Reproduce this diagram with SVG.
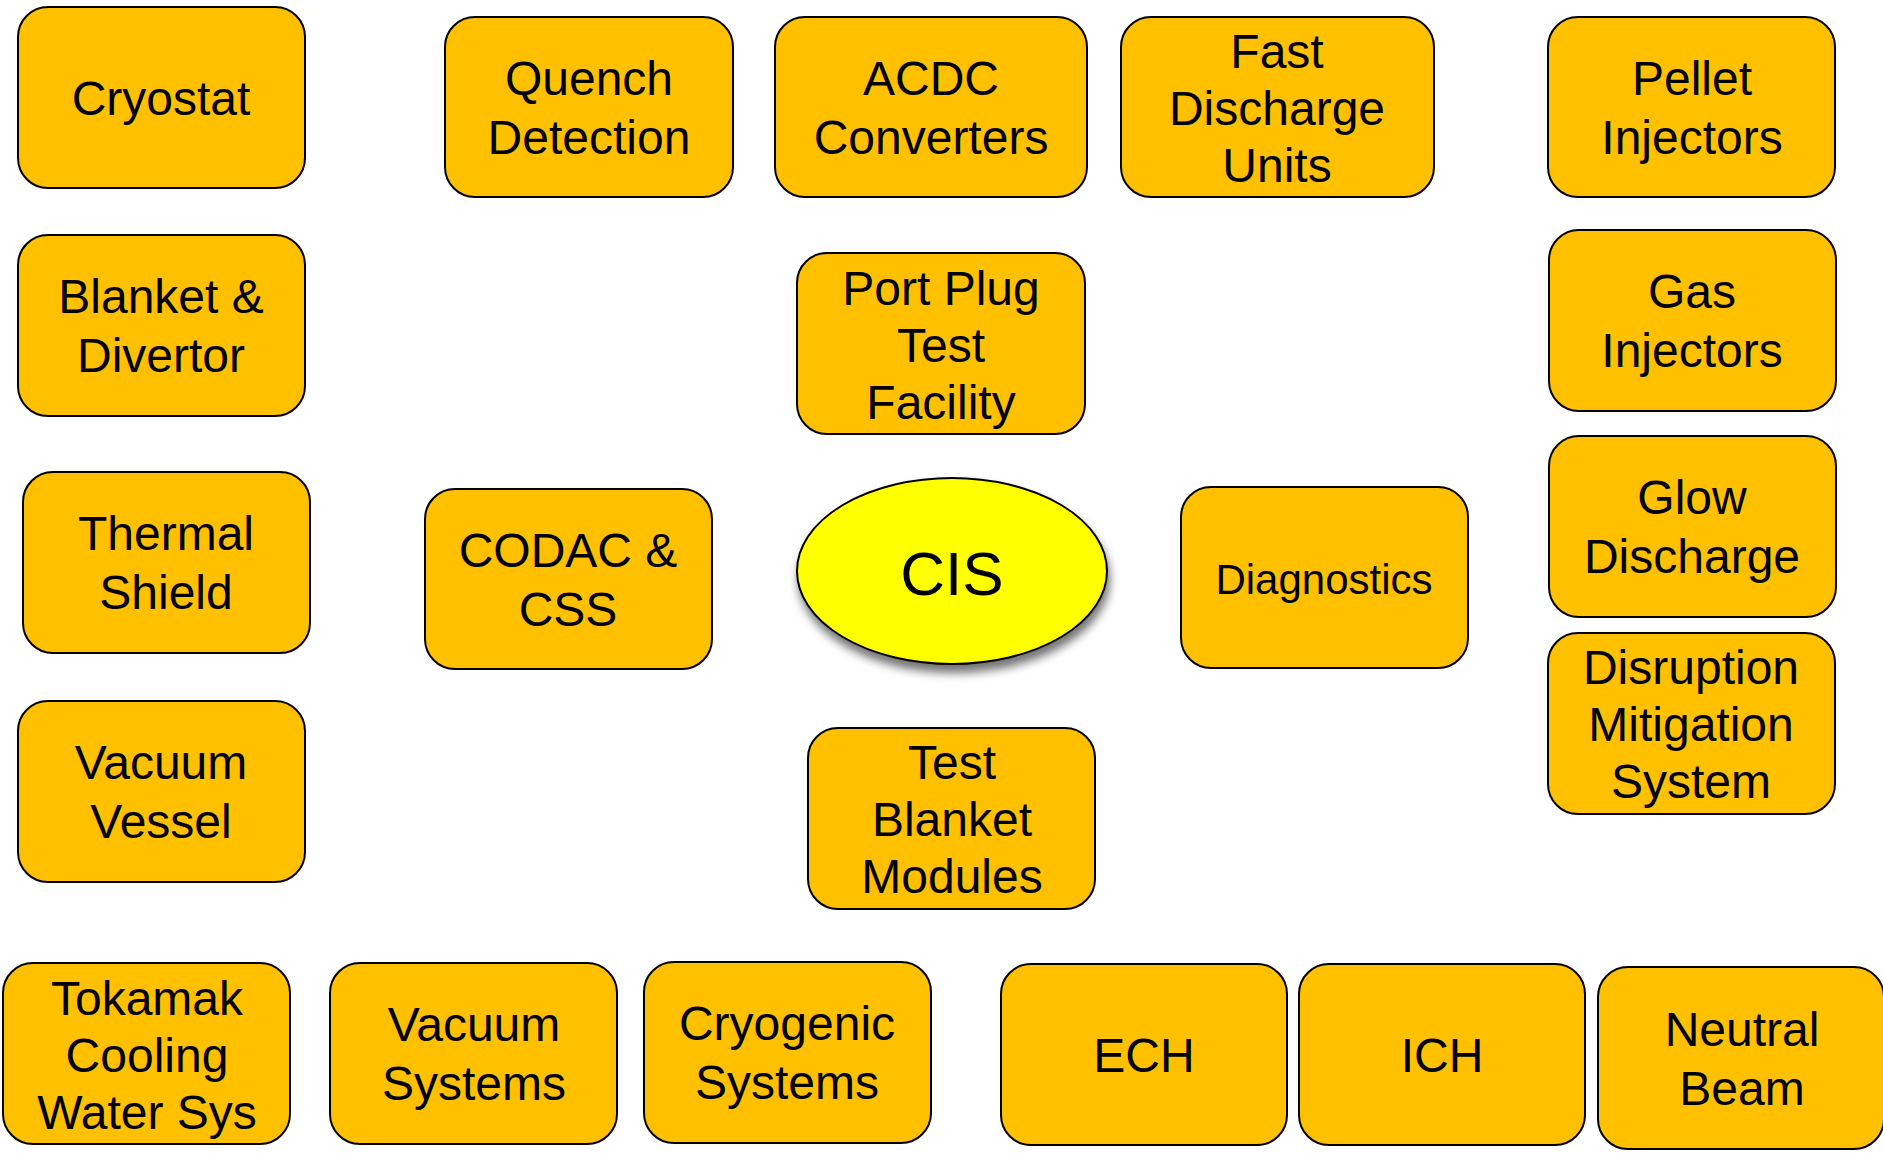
<svg xmlns="http://www.w3.org/2000/svg" width="1883" height="1154" viewBox="0 0 1883 1154">
<style>
.box{fill:#FFC000;stroke:#000;stroke-width:2}
.t{font-family:"Liberation Sans",Arial,sans-serif;font-size:48px;fill:#000;text-anchor:middle}
.cis{fill:#FFFF00;stroke:#000;stroke-width:2}
</style>
<defs>
<filter id="sh" x="-20%" y="-20%" width="140%" height="150%">
<feDropShadow dx="2" dy="8" stdDeviation="5" flood-color="#000" flood-opacity="0.55"/>
</filter>
</defs>
<rect width="1883" height="1154" fill="#fff"/>
<g id="connectors"></g>
<g id="cis"><ellipse class="cis" cx="952" cy="571" rx="155" ry="93" filter="url(#sh)"/><text class="t" x="952" y="595" style="font-size:62px">CIS</text></g>
<g id="cryostat"><rect class="box" x="18" y="7" width="287" height="181" rx="30"/><text class="t" x="161" y="115">Cryostat</text></g>
<g id="quench"><rect class="box" x="445" y="17" width="288" height="180" rx="30"/><text class="t" x="589" y="95">Quench</text><text class="t" x="589" y="154">Detection</text></g>
<g id="acdc"><rect class="box" x="775" y="17" width="312" height="180" rx="30"/><text class="t" x="931" y="95">ACDC</text><text class="t" x="931" y="154">Converters</text></g>
<g id="fdu"><rect class="box" x="1121" y="17" width="313" height="180" rx="30"/><text class="t" x="1277" y="68">Fast</text><text class="t" x="1277" y="125">Discharge</text><text class="t" x="1277" y="182">Units</text></g>
<g id="pellet"><rect class="box" x="1548" y="17" width="287" height="180" rx="30"/><text class="t" x="1692" y="95">Pellet</text><text class="t" x="1692" y="154">Injectors</text></g>
<g id="blanket"><rect class="box" x="18" y="235" width="287" height="181" rx="30"/><text class="t" x="161" y="313">Blanket &amp;</text><text class="t" x="161" y="372">Divertor</text></g>
<g id="portplug"><rect class="box" x="797" y="253" width="288" height="181" rx="30"/><text class="t" x="941" y="305">Port Plug</text><text class="t" x="941" y="362">Test</text><text class="t" x="941" y="419">Facility</text></g>
<g id="gas"><rect class="box" x="1549" y="230" width="287" height="181" rx="30"/><text class="t" x="1692" y="308">Gas</text><text class="t" x="1692" y="367">Injectors</text></g>
<g id="thermal"><rect class="box" x="23" y="472" width="287" height="181" rx="30"/><text class="t" x="166" y="550">Thermal</text><text class="t" x="166" y="609">Shield</text></g>
<g id="codac"><rect class="box" x="425" y="489" width="287" height="180" rx="30"/><text class="t" x="568" y="567">CODAC &amp;</text><text class="t" x="568" y="626">CSS</text></g>
<g id="diagnostics"><rect class="box" x="1181" y="487" width="287" height="181" rx="30"/><text class="t" x="1324" y="594" style="font-size:42px">Diagnostics</text></g>
<g id="glow"><rect class="box" x="1549" y="436" width="287" height="181" rx="30"/><text class="t" x="1692" y="514">Glow</text><text class="t" x="1692" y="573">Discharge</text></g>
<g id="dms"><rect class="box" x="1548" y="633" width="287" height="181" rx="30"/><text class="t" x="1691" y="684">Disruption</text><text class="t" x="1691" y="741">Mitigation</text><text class="t" x="1691" y="798">System</text></g>
<g id="vessel"><rect class="box" x="18" y="701" width="287" height="181" rx="30"/><text class="t" x="161" y="779">Vacuum</text><text class="t" x="161" y="838">Vessel</text></g>
<g id="tbm"><rect class="box" x="808" y="728" width="287" height="181" rx="30"/><text class="t" x="952" y="779">Test</text><text class="t" x="952" y="836">Blanket</text><text class="t" x="952" y="893">Modules</text></g>
<g id="tcws"><rect class="box" x="3" y="963" width="287" height="181" rx="30"/><text class="t" x="147" y="1015">Tokamak</text><text class="t" x="147" y="1072">Cooling</text><text class="t" x="147" y="1129">Water Sys</text></g>
<g id="vacsys"><rect class="box" x="330" y="963" width="287" height="181" rx="30"/><text class="t" x="474" y="1041">Vacuum</text><text class="t" x="474" y="1100">Systems</text></g>
<g id="cryo"><rect class="box" x="644" y="962" width="287" height="181" rx="30"/><text class="t" x="787" y="1040">Cryogenic</text><text class="t" x="787" y="1099">Systems</text></g>
<g id="ech"><rect class="box" x="1001" y="964" width="286" height="181" rx="30"/><text class="t" x="1144" y="1072">ECH</text></g>
<g id="ich"><rect class="box" x="1299" y="964" width="286" height="181" rx="30"/><text class="t" x="1442" y="1072">ICH</text></g>
<g id="nb"><rect class="box" x="1598" y="967" width="286" height="182" rx="30"/><text class="t" x="1742" y="1046">Neutral</text><text class="t" x="1742" y="1105">Beam</text></g>
</svg>
